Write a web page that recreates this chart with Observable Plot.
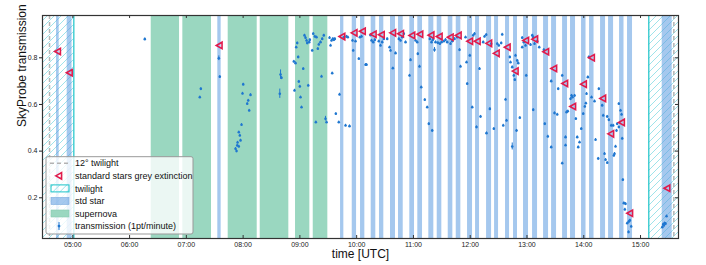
<!DOCTYPE html>
<html><head><meta charset="utf-8">
<script src="https://cdn.jsdelivr.net/npm/d3@7"></script>
<script src="https://cdn.jsdelivr.net/npm/@observablehq/plot@0.6"></script>
<style>
body{margin:0;background:#fff;}
#chart{width:706px;height:265px;}
</style></head><body><div id="chart"></div>
<script>
// ---- data (time in decimal hours UTC) ----
const xDomain = [4.466, 15.669];
const yDomain = [0.0255, 0.9813];
const xTicks = [5,6,7,8,9,10,11,12,13,14,15];
const yTicks = [0.2,0.4,0.6,0.8];
const twilight12 = [4.590, 15.587];
const twilightMorningEnd = 5.018;
const twilightEveningStart = 15.146;
const stdStart = [4.713,4.901,7.554,9.716,9.922,10.068,10.256,10.402,10.596,10.737,10.936,11.077,11.271,11.419,11.613,11.754,11.953,12.094,12.288,12.429,12.622,12.763,12.939,13.098,13.292,13.433,13.627,13.767,13.961,14.102,14.296,14.437,14.631,14.771,15.382];
const stdEnd   = [4.760,4.986,7.613,9.774,9.998,10.144,10.337,10.478,10.684,10.820,11.019,11.160,11.359,11.500,11.694,11.835,12.041,12.164,12.376,12.499,12.693,12.833,13.027,13.186,13.380,13.521,13.714,13.855,14.040,14.181,14.384,14.525,14.709,14.859,15.558];
const stdExtinction = [0.827,0.736,0.853,0.891,0.907,0.914,0.901,0.899,0.907,0.903,0.896,0.901,0.897,0.891,0.888,0.896,0.871,0.871,0.862,0.819,0.845,0.743,0.874,0.880,0.826,0.754,0.690,0.591,0.687,0.800,0.626,0.474,0.523,0.134,0.241];
const snStart = [6.381,6.938,7.737,8.301,8.923,9.235];
const snEnd   = [6.880,7.443,8.248,8.805,9.175,9.492];
// [time, transmission, error]
const transmission = [
[6.268,0.880],[7.255,0.667],[7.237,0.631],[7.572,0.798,0.01],[7.589,0.719],
[8.002,0.686],[7.989,0.647],[8.130,0.641],[8.090,0.617],[8.072,0.603],[8.107,0.574],[7.972,0.513],
[7.924,0.481],[7.942,0.467],[7.896,0.424],[7.866,0.410],[7.884,0.400],[7.924,0.420],[7.902,0.437],[7.954,0.446],
[8.659,0.728,0.02],[8.676,0.714],[8.646,0.646,0.02],[8.893,0.784],[8.923,0.777],[8.905,0.660],
[8.935,0.845],[8.953,0.863],[8.970,0.803],[8.981,0.698],[8.999,0.677],[9.011,0.631],[9.029,0.588],[9.059,0.753],
[9.081,0.896],[9.099,0.886],[9.117,0.874],[9.129,0.863],[9.147,0.681],[9.164,0.867],[9.175,0.877],[9.217,0.831],
[9.235,0.903],[9.281,0.524],[9.263,0.891],[9.293,0.888],[9.316,0.839],[9.333,0.857],[9.363,0.867],[9.393,0.881],
[9.421,0.896],[9.381,0.720],[9.451,0.539,0.01],[9.469,0.524],[9.522,0.886],[9.540,0.853],[9.557,0.874],[9.580,0.881],
[9.598,0.877],[9.615,0.881],[9.569,0.734],[9.698,0.643],[9.633,0.560],[9.685,0.524],[9.804,0.510],[9.874,0.507],
[9.774,0.888],[9.821,0.891],[9.844,0.888],[9.927,0.874],[9.939,0.831],[9.980,0.871],[10.038,0.796],[10.056,0.888],
[10.086,0.891],[10.156,0.770],[10.174,0.770],[10.244,0.897],[10.262,0.874],[10.292,0.867],[10.320,0.877],[10.390,0.871],
[10.420,0.853],[10.450,0.867],[10.478,0.881],[10.538,0.881],[10.579,0.845],[10.596,0.831],[10.637,0.755],[10.685,0.820],
[10.743,0.881],[10.773,0.874],[10.803,0.888],[10.831,0.903],[10.861,0.867],[10.931,0.724],[10.949,0.791],[11.037,0.874],
[11.067,0.867],[11.077,0.817],[11.107,0.763],[11.137,0.674],[11.200,0.620],[11.243,0.588],[11.271,0.517],[11.289,0.881],
[11.319,0.867],[11.342,0.877],[11.371,0.834,0.01],[11.389,0.867],[11.430,0.864],[11.465,0.860],[11.495,0.867],[11.535,0.871],
[11.565,0.877],[11.595,0.867],[11.653,0.860],[11.683,0.871],[11.724,0.881],[11.771,0.888],[11.812,0.834],[11.829,0.763],
[11.331,0.488],[11.918,0.888],[11.993,0.810],[11.935,0.781],[11.947,0.689],[12.036,0.588],[12.053,0.896],[12.076,0.903],
[12.164,0.753],[12.182,0.548],[12.111,0.503],[12.229,0.867],[12.252,0.891],[12.282,0.899],[12.370,0.860],[12.416,0.496],
[12.346,0.581],[12.476,0.860],[12.504,0.853],[12.546,0.863],[12.564,0.900],[12.582,0.510],[12.640,0.531],[12.622,0.621],
[12.698,0.803],[12.710,0.781],[12.740,0.760],[12.768,0.724],[12.786,0.706],[12.798,0.810],[12.828,0.788],[12.846,0.777],
[12.874,0.543],[12.916,0.886],[12.944,0.867],[12.974,0.853],[12.916,0.845],[13.093,0.896],[13.110,0.888],[13.063,0.856],
[13.133,0.860],[13.181,0.871],[13.216,0.845],[12.987,0.724],[13.110,0.577],[13.297,0.834],[13.314,0.517],[13.427,0.700],
[13.485,0.563],[13.533,0.557],[13.550,0.667],[13.621,0.724],[13.697,0.567],[13.719,0.571],[13.767,0.624],[13.785,0.638],
[13.802,0.631],[13.838,0.638],[13.861,0.539],[13.956,0.496],[13.991,0.560],[14.019,0.591],[14.037,0.605],[14.049,0.646],
[14.072,0.717],[14.090,0.803],[14.137,0.631],[14.190,0.614],[14.266,0.667],[14.325,0.596],[14.343,0.553],[14.413,0.548],
[14.442,0.534],[14.484,0.510],[14.519,0.510],[14.590,0.517],[14.618,0.603],[14.648,0.574],[14.666,0.557],[14.618,0.503],
[12.287,0.477],[12.740,0.420,0.015],[12.816,0.488],[13.367,0.463],[13.427,0.417],[13.621,0.348],[13.679,0.460],[13.679,0.425],
[13.885,0.460],[13.926,0.438],[13.903,0.417],[14.208,0.449],[14.255,0.368],[14.366,0.389],[14.384,0.363],[14.414,0.350],
[14.530,0.381],[14.542,0.389],[14.560,0.420],[14.577,0.488],[14.678,0.454],[14.689,0.277],[14.706,0.177],[14.736,0.174],
[14.724,0.150],[14.766,0.091],[14.794,0.098],[14.812,0.103],[14.789,0.053],[14.836,0.077],
[15.383,0.074],[15.411,0.081],[15.441,0.089],[15.458,0.121],[15.400,0.086],[15.423,0.091]
];

// ---- styles ----
const C = {
  std: "#5b9be0", sn: "#9ad7c0", twil: "#19c3c8", hatch: "#9fe3ea",
  dash: "#b3b3b3", pts: "#1f77d0", tri: "#e01b4c", frame: "#333"
};
const font = "Liberation Sans, Arial, Helvetica, sans-serif";
const W = 706, H = 265, mT = 15, mB = 27, mL = 42, mR = 28;
const fw = W - mL - mR, fh = H - mT - mB;

const stdBands = stdStart.map((s, i) => ({x1: s, x2: stdEnd[i], ext: stdExtinction[i], mid: (s + stdEnd[i]) / 2}));
const snBands = snStart.map((s, i) => ({x1: s, x2: snEnd[i]}));
const twilightRects = [{x1: xDomain[0], x2: twilightMorningEnd}, {x1: twilightEveningStart, x2: xDomain[1]}];

const leftTriangle = {
  draw(ctx, size) {
    const r = Math.sqrt(size / Math.PI);
    ctx.moveTo(-r, 0);
    ctx.lineTo(r * 0.8, -r);
    ctx.lineTo(r * 0.8, r);
    ctx.closePath();
  }
};
const fmt = d => String(d).padStart(2, "0") + ":00";

const svg = Plot.plot({
  width: W, height: H,
  marginTop: mT, marginBottom: mB, marginLeft: mL, marginRight: mR,
  style: {fontFamily: font, fontSize: "7px", color: "#222", background: "white"},
  x: {domain: xDomain, ticks: xTicks, tickFormat: fmt, tickSize: 0, tickPadding: 4, label: null},
  y: {domain: yDomain, ticks: yTicks, tickFormat: d => d.toFixed(1), tickSize: 3, tickPadding: 2, label: null},
  marks: [
    Plot.rect(twilightRects, {x1: "x1", x2: "x2", fill: "url(#hatch)"}),
    Plot.rect(stdBands, {x1: "x1", x2: "x2", fill: C.std, fillOpacity: 0.55}),
    Plot.rect(snBands, {x1: "x1", x2: "x2", fill: C.sn}),
    Plot.ruleX([twilightMorningEnd, twilightEveningStart], {stroke: C.twil, strokeWidth: 1.2}),
    Plot.ruleX(twilight12, {stroke: C.dash, strokeWidth: 1.5, strokeDasharray: "4,3"}),
    Plot.ruleX(transmission, {x: d => d[0], y1: d => d[1] - (d[2] ?? 0.005), y2: d => d[1] + (d[2] ?? 0.005), stroke: C.pts, strokeWidth: 1}),
    Plot.dot(transmission, {x: d => d[0], y: d => d[1], r: 1.3, fill: C.pts}),
    Plot.dot(stdBands, {x: "mid", y: "ext", symbol: leftTriangle, r: 3.2, stroke: C.tri, strokeWidth: 1.6, fill: "none"}),
    Plot.tickX(xTicks, {x: d => d, insetTop: fh - 3, stroke: C.frame}),
    Plot.tickX(xTicks, {x: d => d, insetBottom: fh - 3, stroke: C.frame}),
    Plot.tickY(yTicks, {y: d => d, insetLeft: fw - 3, stroke: C.frame}),
    Plot.frame({stroke: C.frame, strokeWidth: 1.2}),
    Plot.text(["time [UTC]"], {frameAnchor: "bottom", dy: 16, lineAnchor: "middle", fontSize: 12, fill: "#111"}),
    Plot.text(["SkyProbe transmission"], {frameAnchor: "left", dx: -20, rotate: -90, lineAnchor: "middle", fontSize: 12, fill: "#111"})
  ]
});

// hatch pattern for twilight
const s = d3.select(svg);
const defs = s.insert("defs", ":first-child");
const pat = defs.append("pattern").attr("id", "hatch").attr("patternUnits", "userSpaceOnUse").attr("width", 7).attr("height", 7);
pat.append("path").attr("d", "M-1,1 l2,-2 M0,7 l7,-7 M6,8 l2,-2").attr("stroke", C.hatch).attr("stroke-width", 1);

// legend (inside plot, lower left)
const lg = s.append("g").attr("transform", `translate(${mL + 4},${mT + 141.7})`)
  .attr("font-family", font).attr("font-size", 9).attr("text-anchor", "start");
lg.append("rect").attr("width", 147).attr("height", 77.3).attr("rx", 2)
  .attr("fill", "white").attr("fill-opacity", 0.8).attr("stroke", "#999").attr("stroke-width", 1);
const rowY = i => 6.6 + i * 12.55;
const items = ["12° twilight", "standard stars grey extinction", "twilight", "std star", "supernova", "transmission (1pt/minute)"];
items.forEach((t, i) => {
  lg.append("text").attr("x", 29).attr("y", rowY(i)).attr("dy", "0.35em").attr("text-anchor", "start").attr("fill", "#111").text(t);
});
lg.append("line").attr("x1", 4).attr("x2", 22).attr("y1", rowY(0)).attr("y2", rowY(0)).attr("stroke", C.dash).attr("stroke-width", 1.5).attr("stroke-dasharray", "4,3");
lg.append("path").attr("transform", `translate(13,${rowY(1)})`).attr("d", d3.symbol(leftTriangle, Math.PI * 3.2 * 3.2)()).attr("fill", "none").attr("stroke", C.tri).attr("stroke-width", 1.6);
lg.append("rect").attr("x", 5).attr("y", rowY(2) - 3.5).attr("width", 18).attr("height", 7).attr("fill", "url(#hatch)").attr("stroke", C.twil).attr("stroke-width", 1);
lg.append("rect").attr("x", 5).attr("y", rowY(3) - 3.5).attr("width", 18).attr("height", 7).attr("fill", C.std).attr("fill-opacity", 0.55).attr("stroke", "#7aa9dd").attr("stroke-width", 0.6);
lg.append("rect").attr("x", 5).attr("y", rowY(4) - 3.5).attr("width", 18).attr("height", 7).attr("fill", C.sn).attr("stroke", "#86c9b0").attr("stroke-width", 0.6);
lg.append("line").attr("x1", 13).attr("x2", 13).attr("y1", rowY(5) - 4).attr("y2", rowY(5) + 4).attr("stroke", C.pts).attr("stroke-width", 1);
lg.append("circle").attr("cx", 13).attr("cy", rowY(5)).attr("r", 1.4).attr("fill", C.pts);

document.getElementById("chart").appendChild(svg);
</script></body></html>
